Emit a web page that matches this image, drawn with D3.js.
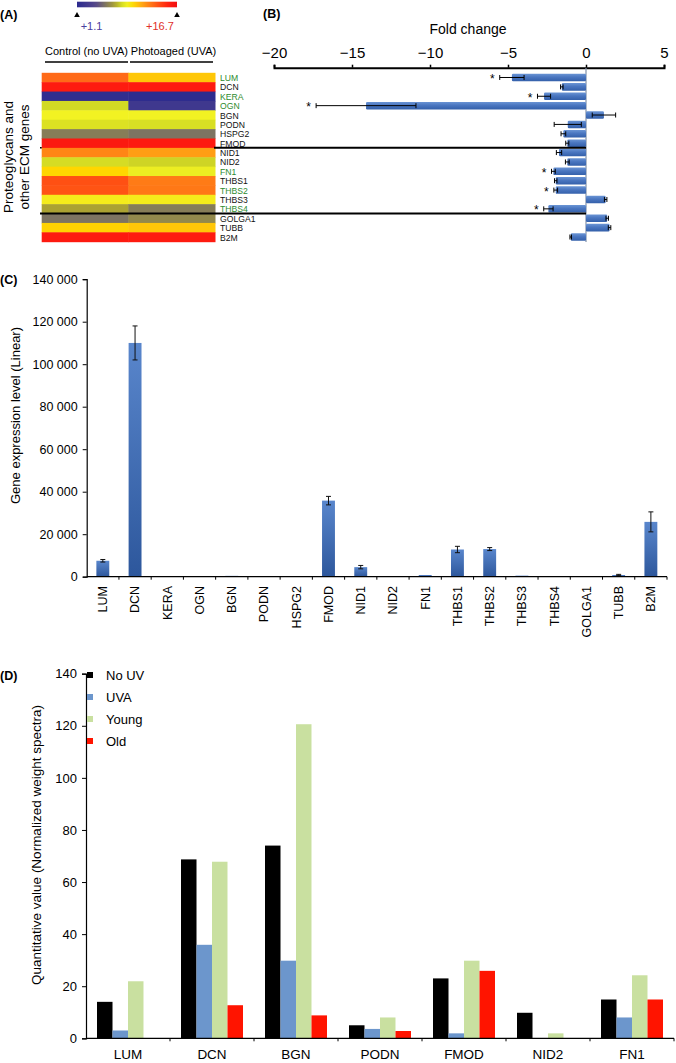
<!DOCTYPE html>
<html><head><meta charset="utf-8">
<script src="https://cdn.jsdelivr.net/npm/d3@7"></script>
<style>body{margin:0;background:#fff} svg{display:block;font-family:"Liberation Sans",Arial,Helvetica,sans-serif}</style>
</head><body><svg id="c" width="676" height="1063"></svg>
<script>
// ---------- DATA ----------
const genes = ["LUM","DCN","KERA","OGN","BGN","PODN","HSPG2","FMOD","NID1","NID2","FN1","THBS1","THBS2","THBS3","THBS4","GOLGA1","TUBB","B2M"];
const greenGenes = ["LUM","KERA","OGN","FN1","THBS2","THBS4"];
const heatControl = [13, 15.6, 1.5, 8, 9, 8.3, 5.8, 15.8, 12.2, 8.1, 10, 13.8, 13.7, 9.2, 7, 5.5, 10.1, 15.7];
const heatUVA     = [10.4, 15.6, 1.3, 2.5, 9, 8.2, 5.5, 15.7, 11.5, 7.9, 8.8, 12.5, 12.6, 9.2, 5.8, 6.2, 10.4, 15.6];
const heatRange = [1.1, 16.7];
const foldChange = [-4.75, -1.55, -2.69, -14.1, 1.15, -1.17, -1.45, -1.2, -1.73, -1.2, -2.09, -1.94, -1.94, 1.26, -2.41, 1.36, 1.51, -0.98];
const foldErr    = [0.78, 0.08, 0.42, 3.2, 0.75, 0.87, 0.15, 0.1, 0.17, 0.12, 0.12, 0.08, 0.12, 0.08, 0.3, 0.08, 0.08, 0.05];
const foldSig    = ["LUM","KERA","OGN","FN1","THBS2","THBS4"];
const foldTicks  = [-20, -15, -10, -5, 0, 5];
const expr    = [7500, 110000, 100, 200, 400, 200, 50, 35800, 4500, 200, 800, 12800, 13000, 500, 200, 50, 800, 25800];
const exprErr = [600, 8000, 0, 0, 0, 0, 0, 2000, 800, 0, 0, 1500, 700, 0, 0, 0, 300, 4700];
const exprTicks = [0, 20000, 40000, 60000, 80000, 100000, 120000, 140000];
const protGenes  = ["LUM","DCN","BGN","PODN","FMOD","NID2","FN1"];
const protSeries = ["No UV","UVA","Young","Old"];
const noUV  = [14, 68.7, 74, 5, 23, 9.8, 14.9];
const uva   = [3, 35.9, 29.8, 3.6, 1.9, 0, 8];
const young = [21.9, 67.8, 120.6, 8, 29.8, 1.9, 24.2];
const old   = [0, 12.7, 8.8, 2.8, 25.9, 0, 14.9];
const protTicks = [0, 20, 40, 60, 80, 100, 120, 140];

// ---------- SETUP ----------
const svg = d3.select("#c");
const defs = svg.append("defs");
const FONT = '"Liberation Sans",Arial,Helvetica,sans-serif';

const heatColor = d3.scaleLinear()
  .domain([1.1, 4, 5.5, 7, 8, 9, 10, 11, 12, 13, 14, 15.5, 16.7])
  .range(["#2B2A8F","#55468C","#7D7462","#ABA232","#D2DA24","#F2F222","#FFD600","#FFB014","#FF8C14","#FF6A18","#FF4A12","#FF1C10","#F01010"])
  .clamp(true);

// ---------- PANEL A ----------
svg.append("text").attr("x", 0).attr("y", 19).attr("font-weight", "bold").attr("font-size", 12.5).text("(A)");

const cbar = defs.append("linearGradient").attr("id", "cbar");
d3.range(0, 1.0001, 0.05).forEach(t => {
  cbar.append("stop").attr("offset", t).attr("stop-color", heatColor(heatRange[0] + t * (heatRange[1] - heatRange[0])));
});
const cbX = d3.scaleLinear().domain(heatRange).range([77, 177]);
svg.append("rect").attr("x", cbX(heatRange[0])).attr("y", 1.7).attr("width", cbX(heatRange[1]) - cbX(heatRange[0])).attr("height", 5.6).attr("fill", "url(#cbar)");
heatRange.forEach(v => {
  const x = cbX(v);
  svg.append("path").attr("d", `M${x - 2.8},17 L${x + 2.8},17 L${x},12 Z`).attr("fill", "#000");
});
svg.append("text").attr("x", 91.5).attr("y", 29.5).attr("text-anchor", "middle").attr("font-size", 11).attr("fill", "#4A40A0").text("+1.1");
svg.append("text").attr("x", 160).attr("y", 29.5).attr("text-anchor", "middle").attr("font-size", 11).attr("fill", "#E0302A").text("+16.7");

svg.append("text").attr("x", 86.5).attr("y", 55).attr("text-anchor", "middle").attr("font-size", 11).text("Control (no UVA)");
svg.append("text").attr("x", 173.5).attr("y", 55).attr("text-anchor", "middle").attr("font-size", 11).text("Photoaged (UVA)");
svg.append("line").attr("x1", 45).attr("x2", 128).attr("y1", 62).attr("y2", 62).attr("stroke", "#000").attr("stroke-width", 1.6);
svg.append("line").attr("x1", 130).attr("x2", 213).attr("y1", 62).attr("y2", 62).attr("stroke", "#000").attr("stroke-width", 1.6);

const yRow = d3.scaleBand().domain(genes).range([72.8, 241.7]);
const xCol = d3.scaleBand().domain(["control","uva"]).range([41.7, 215]);
const heatData = [];
genes.forEach((g, i) => {
  heatData.push({g, c: "control", v: heatControl[i]});
  heatData.push({g, c: "uva", v: heatUVA[i]});
});
svg.append("g").selectAll("rect").data(heatData).join("rect")
  .attr("x", d => xCol(d.c)).attr("y", d => yRow(d.g))
  .attr("width", xCol.bandwidth() + 0.5).attr("height", yRow.bandwidth() + 0.5)
  .attr("fill", d => heatColor(d.v));

svg.append("g").selectAll("text").data(genes).join("text")
  .attr("transform", d => `translate(220,${yRow(d) + yRow.bandwidth() / 2 + 3.5}) scale(0.9,1)`)
  .attr("font-size", 9.6)
  .attr("fill", d => greenGenes.includes(d) ? "#2E8B2E" : "#111")
  .text(d => d);

const aLab = svg.append("text").attr("transform", "translate(13,157) rotate(-90)").attr("text-anchor", "middle").attr("font-size", 13.5);
aLab.append("tspan").attr("x", 0).attr("dy", 0).text("Proteoglycans and");
aLab.append("tspan").attr("x", 0).attr("dy", 16).text("other ECM genes");

// ---------- PANEL B ----------
svg.append("text").attr("x", 263).attr("y", 18).attr("font-weight", "bold").attr("font-size", 12.5).text("(B)");
svg.append("text").attr("x", 468).attr("y", 34).attr("text-anchor", "middle").attr("font-size", 14).text("Fold change");

const xB = d3.scaleLinear().domain([-20, 5]).range([274, 664]);
const yB = d3.scaleBand().domain(genes).range([72.8, 241.7]).paddingInner(0.2).paddingOuter(0.1);

const bGrad = defs.append("linearGradient").attr("id", "bGrad").attr("x1", 0).attr("y1", 0).attr("x2", 0).attr("y2", 1);
bGrad.append("stop").attr("offset", 0).attr("stop-color", "#6A94D4");
bGrad.append("stop").attr("offset", 0.45).attr("stop-color", "#4A76C0");
bGrad.append("stop").attr("offset", 1).attr("stop-color", "#3460AA");

const axB = svg.append("g").attr("transform", "translate(0,67.7)")
  .call(d3.axisTop(xB).tickValues(foldTicks).tickSize(3).tickPadding(7));
axB.select(".domain").attr("stroke-width", 2);
axB.selectAll(".tick line").attr("stroke-width", 1.5);
axB.selectAll("text").attr("font-size", 15).attr("font-family", FONT);

svg.append("line").attr("x1", xB(0)).attr("x2", xB(0)).attr("y1", 68).attr("y2", 242).attr("stroke", "#8090A8").attr("stroke-width", 1.2);

svg.append("g").selectAll("rect").data(genes).join("rect")
  .attr("x", (d, i) => xB(Math.min(0, foldChange[i])))
  .attr("y", d => yB(d))
  .attr("width", (d, i) => Math.abs(xB(foldChange[i]) - xB(0)))
  .attr("height", yB.bandwidth())
  .attr("rx", 1.2)
  .attr("fill", "url(#bGrad)");

const errB = svg.append("g").attr("stroke", "#000").attr("stroke-width", 1);
genes.forEach((g, i) => {
  const cy = yB(g) + yB.bandwidth() / 2;
  const x1 = xB(foldChange[i] - foldErr[i]), x2 = xB(foldChange[i] + foldErr[i]);
  errB.append("line").attr("x1", x1).attr("x2", x2).attr("y1", cy).attr("y2", cy);
  errB.append("line").attr("x1", x1).attr("x2", x1).attr("y1", cy - 2.5).attr("y2", cy + 2.5);
  errB.append("line").attr("x1", x2).attr("x2", x2).attr("y1", cy - 2.5).attr("y2", cy + 2.5);
  if (foldSig.includes(g)) {
    svg.append("text").attr("x", x1 - 7.5).attr("y", cy + 5.5).attr("text-anchor", "middle").attr("font-size", 12).text("*");
  }
});

svg.append("line").attr("x1", 214).attr("x2", xB(0)).attr("y1", yRow("NID1")).attr("y2", yRow("NID1")).attr("stroke", "#000").attr("stroke-width", 2);
svg.append("line").attr("x1", 40).attr("x2", 41.7).attr("y1", yRow("NID1")).attr("y2", yRow("NID1")).attr("stroke", "#000").attr("stroke-width", 1.5);
svg.append("line").attr("x1", 40).attr("x2", xB(0)).attr("y1", yRow("GOLGA1")).attr("y2", yRow("GOLGA1")).attr("stroke", "#000").attr("stroke-width", 2);

// ---------- PANEL C ----------
svg.append("text").attr("x", 0).attr("y", 284).attr("font-weight", "bold").attr("font-size", 12.5).text("(C)");
const xC = d3.scaleBand().domain(genes).range([86.7, 667]).paddingInner(0.6).paddingOuter(0.3);
const xCb = d3.scaleBand().domain(genes).range([86.7, 667]);
const yC = d3.scaleLinear().domain([0, 140000]).range([576.7, 279.2]);

const cGrad = defs.append("linearGradient").attr("id", "cGrad").attr("x1", 0).attr("y1", 0).attr("x2", 0).attr("y2", 1);
cGrad.append("stop").attr("offset", 0).attr("stop-color", "#5986CC");
cGrad.append("stop").attr("offset", 1).attr("stop-color", "#2D579C");

const ayC = svg.append("g").attr("transform", "translate(86.7,0)")
  .call(d3.axisLeft(yC).tickValues(exprTicks).tickSize(4).tickPadding(5).tickFormat(d => d3.format(",")(d).replace(/,/g, " ")));
ayC.selectAll("text").attr("font-size", 12.5).attr("font-family", FONT);
ayC.select(".domain").attr("stroke-width", 1.2);

svg.append("g").selectAll("rect").data(genes).join("rect")
  .attr("x", d => xC(d)).attr("y", (d, i) => yC(expr[i]))
  .attr("width", xC.bandwidth()).attr("height", (d, i) => yC(0) - yC(expr[i]))
  .attr("fill", "url(#cGrad)");

const errC = svg.append("g").attr("stroke", "#111").attr("stroke-width", 1);
genes.forEach((g, i) => {
  if (!exprErr[i]) return;
  const cx = xC(g) + xC.bandwidth() / 2;
  const y1 = yC(expr[i] + exprErr[i]), y2 = yC(expr[i] - exprErr[i]);
  errC.append("line").attr("x1", cx).attr("x2", cx).attr("y1", y1).attr("y2", y2);
  errC.append("line").attr("x1", cx - 2.5).attr("x2", cx + 2.5).attr("y1", y1).attr("y2", y1);
  errC.append("line").attr("x1", cx - 2.5).attr("x2", cx + 2.5).attr("y1", y2).attr("y2", y2);
});

const axC = svg.append("g").attr("transform", `translate(0,${yC(0)})`);
axC.append("line").attr("x1", 86.7).attr("x2", 667).attr("stroke", "#000").attr("stroke-width", 1.2);
axC.selectAll("line.tk").data(genes.slice(1).concat(["end"])).join("line").attr("class", "tk")
  .attr("x1", d => d === "end" ? 667 : xCb(d)).attr("x2", d => d === "end" ? 667 : xCb(d))
  .attr("y1", 0).attr("y2", 3).attr("stroke", "#000");
svg.append("g").selectAll("text").data(genes).join("text")
  .attr("transform", d => `translate(${xCb(d) + xCb.bandwidth() / 2 + 4.4},586) rotate(-90)`)
  .attr("text-anchor", "end").attr("font-size", 12.5).text(d => d);

svg.append("text").attr("transform", "translate(20,415.5) rotate(-90)").attr("text-anchor", "middle").attr("font-size", 13).text("Gene expression level (Linear)");

// ---------- PANEL D ----------
svg.append("text").attr("x", 0).attr("y", 680).attr("font-weight", "bold").attr("font-size", 12.5).text("(D)");
const xD = d3.scaleBand().domain(protGenes).range([86, 674]).paddingInner(0.262).paddingOuter(0.131);
const xDb = d3.scaleBand().domain(protGenes).range([86, 674]);
const xD1 = d3.scaleBand().domain(protSeries).range([0, xD.bandwidth()]);
const yD = d3.scaleLinear().domain([0, 140]).range([1038.3, 673.7]);
const dColor = d3.scaleOrdinal().domain(protSeries).range(["#000000", "#6C96CC", "#C9E0A0", "#FF1400"]);
const protValues = [noUV, uva, young, old];

const ayD = svg.append("g").attr("transform", "translate(86,0)")
  .call(d3.axisLeft(yD).tickValues(protTicks).tickSize(4).tickPadding(5));
ayD.selectAll("text").attr("font-size", 13).attr("font-family", FONT);
ayD.select(".domain").attr("stroke-width", 1.2);

const dData = [];
protGenes.forEach((g, i) => protSeries.forEach((s, j) => dData.push({g, s, v: protValues[j][i]})));
svg.append("g").selectAll("rect").data(dData).join("rect")
  .attr("x", d => xD(d.g) + xD1(d.s)).attr("y", d => yD(d.v))
  .attr("width", xD1.bandwidth()).attr("height", d => yD(0) - yD(d.v))
  .attr("fill", d => dColor(d.s));

const axD = svg.append("g").attr("transform", `translate(0,${yD(0)})`);
axD.append("line").attr("x1", 86).attr("x2", 674).attr("stroke", "#000").attr("stroke-width", 1.2);
axD.selectAll("line.tk").data(protGenes.slice(1).concat(["end"])).join("line").attr("class", "tk")
  .attr("x1", d => d === "end" ? 674 : xDb(d)).attr("x2", d => d === "end" ? 674 : xDb(d))
  .attr("y1", 0).attr("y2", 3).attr("stroke", "#000");
svg.append("g").selectAll("text").data(protGenes).join("text")
  .attr("x", d => xDb(d) + xDb.bandwidth() / 2).attr("y", 1059)
  .attr("text-anchor", "middle").attr("font-size", 13.5).text(d => d);

const leg = svg.append("g").selectAll("g").data(protSeries).join("g")
  .attr("transform", (d, i) => `translate(87,${675 + i * 22})`);
leg.append("rect").attr("x", 0).attr("y", -3).attr("width", 6).attr("height", 6).attr("fill", d => dColor(d));
leg.append("text").attr("x", 19).attr("y", 4.7).attr("font-size", 13).text(d => d);

svg.append("text").attr("transform", "translate(41,845) rotate(-90)").attr("text-anchor", "middle").attr("font-size", 13.5).text("Quantitative value (Normalized weight spectra)");
</script></body></html>
